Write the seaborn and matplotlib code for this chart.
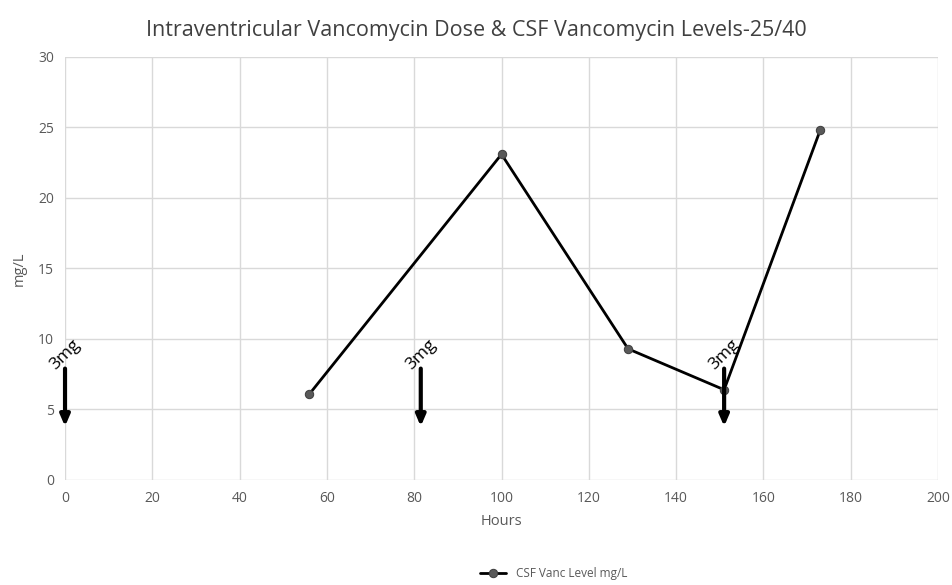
import numpy as np
import pandas as pd
import seaborn as sns
import matplotlib.pyplot as plt

# Datos
horas = [56, 100, 129, 151, 173]
niveles = [6.1, 23.1, 9.3, 6.4, 24.8]
dosis_horas = [0, 81.5, 151]
dosis_etiquetas = ['3mg', '3mg', '3mg']

df = pd.DataFrame({'Hours': horas, 'CSF Vanc Level mg/L': niveles})

sns.set_style('white')
plt.rcParams['font.family'] = ['Open Sans', 'DejaVu Sans']
gris = '#595959'

fig, ax = plt.subplots(figsize=(9.52, 5.85), dpi=100)
fig.subplots_adjust(left=0.0683, right=0.9853, top=0.9026, bottom=0.1795)

sns.lineplot(data=df, x='Hours', y='CSF Vanc Level mg/L', ax=ax, color='black',
             linewidth=2, marker='o', markersize=6, markerfacecolor='#595959',
             markeredgecolor='#404040', label='CSF Vanc Level mg/L')

# Flechas de dosis
for h, et in zip(dosis_horas, dosis_etiquetas):
    ax.annotate('', xy=(h, 3.8), xytext=(h, 7.9),
                arrowprops=dict(arrowstyle='-|>,head_width=0.28,head_length=0.65',
                                color='black', lw=3, shrinkA=0, shrinkB=0))
    ax.text(h, 8.9, et, rotation=45, ha='center', va='center', fontsize=12.5, color='black')

ax.set_xlim(0, 200)
ax.set_ylim(0, 30)
ax.set_xticks(range(0, 201, 20))
ax.set_yticks(range(0, 31, 5))
ax.grid(True, color='#d9d9d9', linewidth=1)
ax.set_axisbelow(True)
for s in ax.spines.values():
    s.set_visible(False)
ax.tick_params(axis='both', length=0, labelsize=10, colors=gris, pad=8)

ax.set_xlabel('Hours', fontsize=10.5, color=gris, labelpad=6)
ax.set_ylabel('mg/L', fontsize=10.5, color=gris, labelpad=8)
fig.text(0.5, 0.948, 'Intraventricular Vancomycin Dose & CSF Vancomycin Levels-25/40',
         fontsize=15.5, color='#404040', ha='center', va='center')

leg = ax.legend(loc='upper center', bbox_to_anchor=(0.56, -0.18), frameon=False,
                fontsize=8.5, handlelength=2.2)
for t in leg.get_texts():
    t.set_color(gris)

fig.savefig('out.png', dpi=100)
